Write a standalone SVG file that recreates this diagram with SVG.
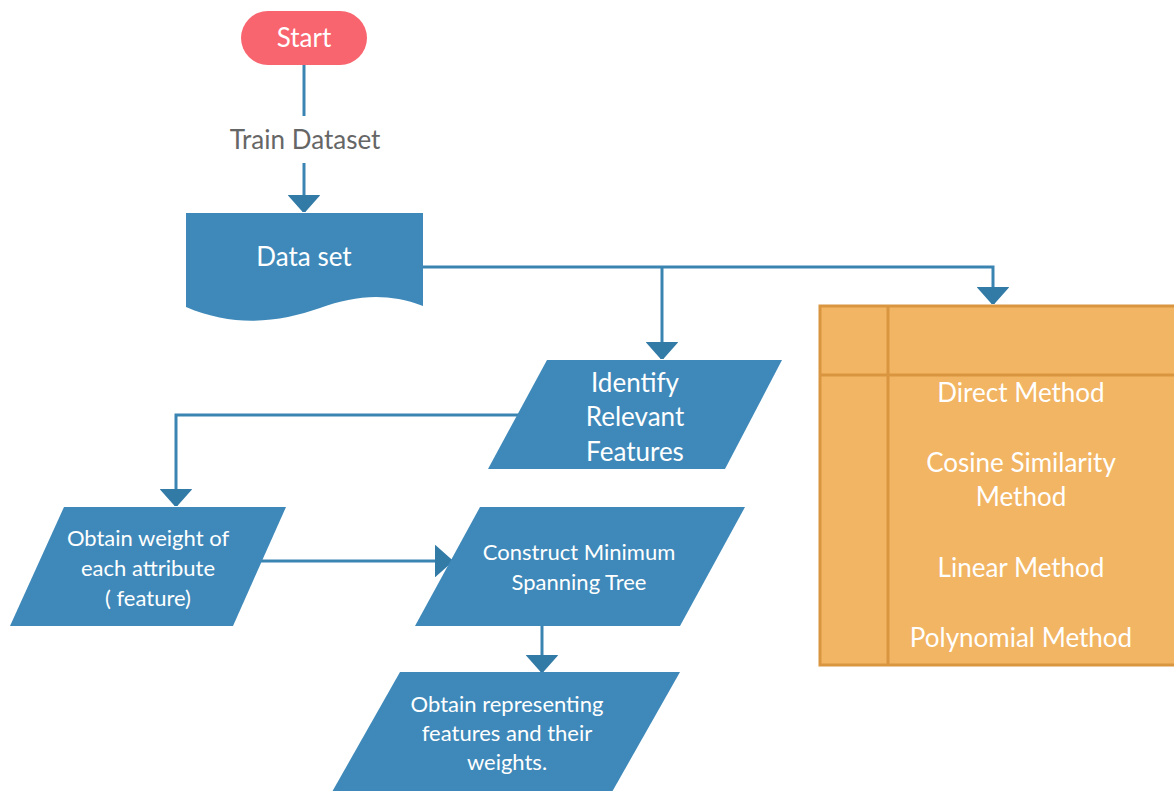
<svg xmlns="http://www.w3.org/2000/svg" width="1174" height="791" viewBox="0 0 1174 791">
<style>
.blue{fill:#3E89B9;}
.t{font-family:Lato,"Liberation Sans",sans-serif;fill:#ffffff;text-anchor:middle;}
.l{font-size:26px;}
.s{font-size:22px;}
.conn{fill:none;stroke:#3A84B2;stroke-width:3;}
</style>
<defs>
<marker id="ah" viewBox="0 0 17 32" refX="17" refY="16" markerWidth="17" markerHeight="32" markerUnits="userSpaceOnUse" orient="auto">
<path d="M0,1 L17,16 L0,31 Z" fill="#337BA7" stroke="#337BA7" stroke-width="2" stroke-linejoin="round"/>
</marker>
</defs>
<rect width="1174" height="791" fill="#ffffff"/>
<g id="connectors">
<path class="conn" d="M304,65 V116"/>
<path class="conn" d="M304,163 V212" marker-end="url(#ah)"/>
<path class="conn" d="M423,267 H993 V304" marker-end="url(#ah)"/>
<path class="conn" d="M662,267 V359" marker-end="url(#ah)"/>
<path class="conn" d="M520,415 H176 V506" marker-end="url(#ah)"/>
<path class="conn" d="M260,561 H452" marker-end="url(#ah)"/>
<path class="conn" d="M542,626 V672" marker-end="url(#ah)"/>
<text class="t l" x="305" y="149" style="fill:#666666">Train Dataset</text>
</g>
<g id="start">
<rect x="241" y="11" width="126" height="54" rx="27" fill="#F8656F"/>
<text class="t l" x="304" y="47">Start</text>
</g>
<g id="dataset">
<path class="blue" d="M186,213 H423 V306 C385,292 355,296 320,308 C280,322 235,328 186,307 Z"/>
<text class="t l" x="304" y="266">Data set</text>
</g>
<g id="identify">
<path class="blue" d="M547,360 H782 L725,469 H488 Z"/>
<text class="t l" x="635" y="392">Identify</text>
<text class="t l" x="635" y="426">Relevant</text>
<text class="t l" x="635" y="461">Features</text>
</g>
<g id="weight">
<path class="blue" d="M64,507 H286 L233,626 H10 Z"/>
<text class="t s" x="148" y="546">Obtain weight of</text>
<text class="t s" x="148" y="576">each attribute</text>
<text class="t s" x="148" y="606">( feature)</text>
</g>
<g id="mst">
<path class="blue" d="M480,507 H745 L680,626 H415 Z"/>
<text class="t s" x="579" y="560">Construct Minimum</text>
<text class="t s" x="579" y="590">Spanning Tree</text>
</g>
<g id="represent">
<path class="blue" d="M400,672 H680 L612,792 H332 Z"/>
<text class="t s" x="507" y="712">Obtain representing</text>
<text class="t s" x="507" y="741">features and their</text>
<text class="t s" x="507" y="770">weights.</text>
</g>
<g id="methods">
<rect x="820" y="306" width="356" height="359" fill="#F2B563" stroke="#DA9540" stroke-width="3"/>
<line x1="888" y1="306" x2="888" y2="665" stroke="#DA9540" stroke-width="3"/>
<line x1="820" y1="375" x2="1176" y2="375" stroke="#DA9540" stroke-width="3"/>
<text class="t l" x="1021" y="402">Direct Method</text>
<text class="t l" x="1021" y="472">Cosine Similarity</text>
<text class="t l" x="1021" y="506">Method</text>
<text class="t l" x="1021" y="577">Linear Method</text>
<text class="t l" x="1021" y="647">Polynomial Method</text>
</g>
</svg>
